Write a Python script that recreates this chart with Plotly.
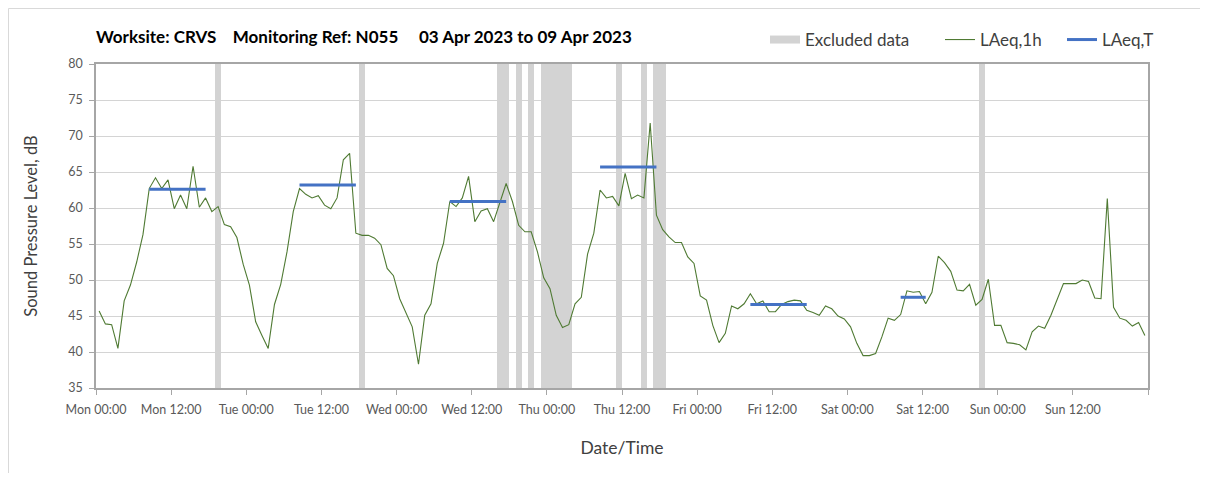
import numpy as np
import pandas as pd
import plotly.graph_objects as go

# ---------------- data ----------------
start = pd.Timestamp("2023-04-03 00:00")

# hourly LAeq,1h values (Mon 00:00 ... Sun 23:00)
laeq_1h = [
    # Mon
    45.7, 43.9, 43.8, 40.5, 47.1, 49.3, 52.5, 56.3, 62.7, 64.2, 62.7, 63.9,
    59.9, 61.8, 59.9, 65.8, 60.1, 61.4, 59.5, 60.2, 57.7, 57.4, 55.9, 52.2,
    # Tue
    49.3, 44.2, 42.3, 40.5, 46.6, 49.4, 53.9, 59.5, 62.7, 61.9, 61.4, 61.7,
    60.4, 59.9, 61.4, 66.7, 67.6, 56.5, 56.2, 56.2, 55.8, 54.9, 51.6, 50.6,
    # Wed
    47.4, 45.4, 43.5, 38.3, 45.1, 46.7, 52.3, 55.1, 60.9, 60.2, 61.4, 64.4,
    58.1, 59.6, 59.9, 58.1, 60.9, 63.4, 60.9, 57.6, 56.7, 56.7, 53.9, 50.3,
    # Thu
    48.8, 45.1, 43.4, 43.8, 46.7, 47.6, 53.6, 56.5, 62.5, 61.4, 61.6, 60.3,
    64.8, 61.3, 61.8, 61.4, 71.8, 59.0, 57.0, 56.0, 55.2, 55.2, 53.2, 52.3,
    # Fri
    47.8, 47.2, 43.7, 41.3, 42.6, 46.4, 46.0, 46.7, 48.1, 46.7, 47.1, 45.6,
    45.6, 46.6, 47.0, 47.2, 47.1, 45.8, 45.5, 45.1, 46.4, 46.0, 45.0, 44.6,
    # Sat
    43.5, 41.2, 39.5, 39.5, 39.8, 42.1, 44.7, 44.4, 45.2, 48.5, 48.3, 48.4,
    46.7, 48.3, 53.3, 52.4, 51.2, 48.6, 48.5, 49.4, 46.5, 47.3, 50.1, 43.7,
    # Sun
    43.7, 41.3, 41.2, 41.0, 40.3, 42.8, 43.6, 43.3, 45.1, 47.3, 49.5, 49.5,
    49.5, 50.0, 49.8, 47.5, 47.4, 61.3, 46.2, 44.7, 44.4, 43.6, 44.1, 42.3,
]

# excluded periods (start hour from Mon 00:00, duration in hours)
excluded_start_hour = [19, 42, 64, 67, 69, 71, 83, 87, 89, 141]
excluded_hours = [1, 1, 2, 1, 1, 5, 1, 1, 2, 1]

# LAeq,T periods (first and last hourly sample of each period)
period_first_hour = [8, 32, 56, 80, 104, 128]
period_last_hour = [17, 41, 65, 89, 113, 132]
laeq_t = [62.6, 63.2, 60.9, 65.7, 46.6, 47.6]

tick_labels = ["Mon 00:00", "Mon 12:00", "Tue 00:00", "Tue 12:00", "Wed 00:00",
               "Wed 12:00", "Thu 00:00", "Thu 12:00", "Fri 00:00", "Fri 12:00",
               "Sat 00:00", "Sat 12:00", "Sun 00:00", "Sun 12:00", ""]

# ---------------- derived ----------------
H = pd.Timedelta(hours=1)
times = [start + (i + 0.5) * H for i in range(len(laeq_1h))]
end = start + 7 * 24 * H

bar_x = [start + (s + d / 2) * H for s, d in zip(excluded_start_hour, excluded_hours)]
bar_w = [d * 3600000 for d in excluded_hours]

lt_x, lt_y = [], []
for a, b, v in zip(period_first_hour, period_last_hour, laeq_t):
    lt_x += [start + (a + 0.5) * H, start + (b + 0.5) * H, None]
    lt_y += [v, v, None]

tick_vals = [start + 12 * k * H for k in range(len(tick_labels))]
day_vals = [start + 24 * k * H for k in range(8)]

FONT = "Lato"
GREEN = "#4f7a33"
BLUE = "#4472c4"
GREY_BAR = "#d3d3d3"

# figure size (the page adds an 8 px body margin)
W, HGT = 1192, 465
ML, MT = 88, 56
PW, PH = W - ML - 52, HGT - MT - 85

fig = go.Figure()

fig.add_trace(go.Bar(
    x=bar_x, y=[45] * len(bar_x), base=[35] * len(bar_x), width=bar_w,
    marker=dict(color=GREY_BAR, line=dict(width=0)),
    showlegend=False, hoverinfo="skip", name="Excluded data"))

# legend entry for the excluded data (drawn as a wide grey key)
fig.add_trace(go.Scatter(
    x=[None], y=[None], mode="lines", xaxis="x2",
    line=dict(color=GREY_BAR, width=8), name="Excluded data", legend="legend"))

fig.add_trace(go.Scatter(
    x=times, y=laeq_1h, mode="lines", name="LAeq,1h",
    line=dict(color=GREEN, width=1.1), legend="legend2"))

fig.add_trace(go.Scatter(
    x=lt_x, y=lt_y, mode="lines", name="LAeq,T",
    line=dict(color=BLUE, width=3), legend="legend3"))

axis_line = "#a6a6a6"
tickfont = dict(family=FONT, size=12.5, color="#595959")
legfont = dict(family=FONT, size=17, color="#404040")
leg_y = 1 - 32 / HGT

# outer chart frame: only its left and top edges fall inside the picture
fx0 = (0.5 - ML) / PW
fx1 = (W + 20 - ML) / PW
fy0 = -(HGT - MT - PH + 20) / PH
fy1 = (PH + MT - 0.5) / PH
frame = dict(color="#d9d9d9", width=1)

fig.update_layout(
    width=W, height=HGT,
    margin=dict(l=ML, r=52, t=MT, b=85, autoexpand=False),
    paper_bgcolor="white", plot_bgcolor="white",
    font=dict(family=FONT, color="#262626"),
    title=dict(
        text="<b>Worksite: CRVS\u00a0\u00a0\u00a0\u00a0Monitoring Ref: N055\u00a0\u00a0\u00a0\u00a0\u00a003 Apr 2023 to 09 Apr 2023</b>",
        x=88 / W, xanchor="left", y=1 - 29 / HGT, yanchor="middle",
        xref="container", yref="container",
        font=dict(family=FONT, size=17, color="black")),
    xaxis=dict(
        range=[start, end], tickvals=tick_vals, ticktext=tick_labels, tickangle=0,
        showgrid=False, showline=True, linecolor=axis_line, linewidth=1.5, mirror=True,
        ticks="outside", ticklen=5, tickcolor=axis_line, tickfont=tickfont,
        ticklabelstandoff=4,
        title=dict(text="Date/Time", font=dict(family=FONT, size=17.5, color="#404040"), standoff=26),
        zeroline=False, automargin=False),
    xaxis2=dict(
        range=[start, end], overlaying="x", matches="x", tickvals=day_vals,
        showgrid=True, gridcolor="#e2e2e2", gridwidth=1, showticklabels=False,
        ticks="", showline=False, zeroline=False),
    yaxis=dict(
        range=[35, 80], dtick=5, showgrid=True, gridcolor="#d4d4d4", gridwidth=1,
        showline=True, linecolor=axis_line, linewidth=1.5, mirror=True,
        ticks="outside", ticklen=5, tickcolor=axis_line, tickfont=tickfont,
        ticklabelstandoff=4,
        title=dict(text="Sound Pressure Level, dB", font=dict(family=FONT, size=16.5, color="#404040"), standoff=26),
        zeroline=False, automargin=False),
    bargap=0,
    legend=dict(x=757 / W, y=leg_y, xref="container", yref="container",
                xanchor="left", yanchor="middle", bgcolor="rgba(0,0,0,0)", font=legfont),
    legend2=dict(x=932 / W, y=leg_y, xref="container", yref="container",
                 xanchor="left", yanchor="middle", bgcolor="rgba(0,0,0,0)", font=legfont),
    legend3=dict(x=1054 / W, y=leg_y, xref="container", yref="container",
                 xanchor="left", yanchor="middle", bgcolor="rgba(0,0,0,0)", font=legfont),
    shapes=[
        dict(type="line", xref="paper", yref="paper", x0=fx0, x1=fx0, y0=fy0, y1=fy1,
             line=frame, layer="below"),
        dict(type="line", xref="paper", yref="paper", x0=fx0, x1=fx1, y0=fy1, y1=fy1,
             line=frame, layer="below"),
    ],
)

fig.write_html("out.html")
